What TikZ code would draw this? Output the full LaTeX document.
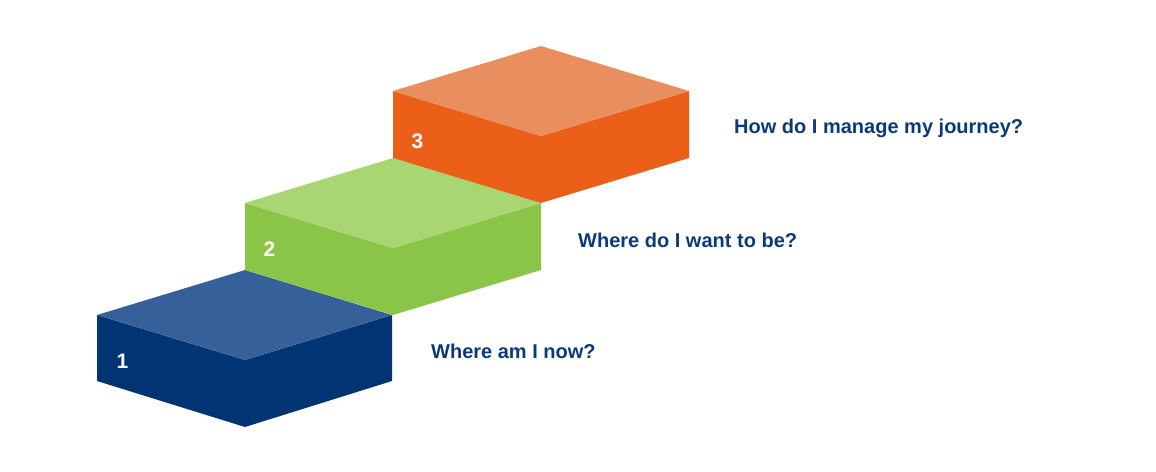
\documentclass[tikz,border=0pt]{standalone}
\usepackage{fontspec}
\setmainfont{Liberation Sans}
\definecolor{bluetop}{HTML}{35609A}
\definecolor{bluefront}{HTML}{023474}
\definecolor{greentop}{HTML}{A8D672}
\definecolor{greenfront}{HTML}{8BC547}
\definecolor{orangetop}{HTML}{E98E5E}
\definecolor{orangefront}{HTML}{EB5F19}
\definecolor{txtblue}{HTML}{0B3A7A}
\tikzset{
  num/.style={text=white,font=\bfseries\fontsize{21}{24}\selectfont,anchor=base west},
  lbl/.style={text=txtblue,font=\bfseries\fontsize{20}{24}\selectfont,anchor=base west,inner sep=0pt}
}
\begin{document}
\begin{tikzpicture}[x=1pt,y=-1pt]
\useasboundingbox (0,0) rectangle (1156,471);
% block 1
\fill[bluefront] (97,315) -- (245,360) -- (392,315) -- (392,381) -- (245,427) -- (97,381) -- cycle;
\fill[bluetop] (97,315) -- (245,270) -- (392,315) -- (245,360) -- cycle;
% block 2
\fill[greenfront] (245,203) -- (393,248) -- (541,203) -- (541,270) -- (393,315) -- (245,270) -- cycle;
\fill[greentop] (245,203) -- (393,158) -- (541,203) -- (393,248) -- cycle;
% block 3
\fill[orangefront] (393,91) -- (541,136) -- (689,91) -- (689,158) -- (541,203) -- (393,158) -- cycle;
\fill[orangetop] (393,91) -- (541,46) -- (689,91) -- (541,136) -- cycle;
\node[num] (n1) at (113,368) {1};
\node[num] (n2) at (260,256) {2};
\node[num] (n3) at (408,148) {3};
\node[lbl] (t1) at (431,358) {Where am I now?};
\node[lbl] (t2) at (578,247) {Where do I want to be?};
\node[lbl] (t3) at (734,133) {How do I manage my journey?};
\end{tikzpicture}
\end{document}
